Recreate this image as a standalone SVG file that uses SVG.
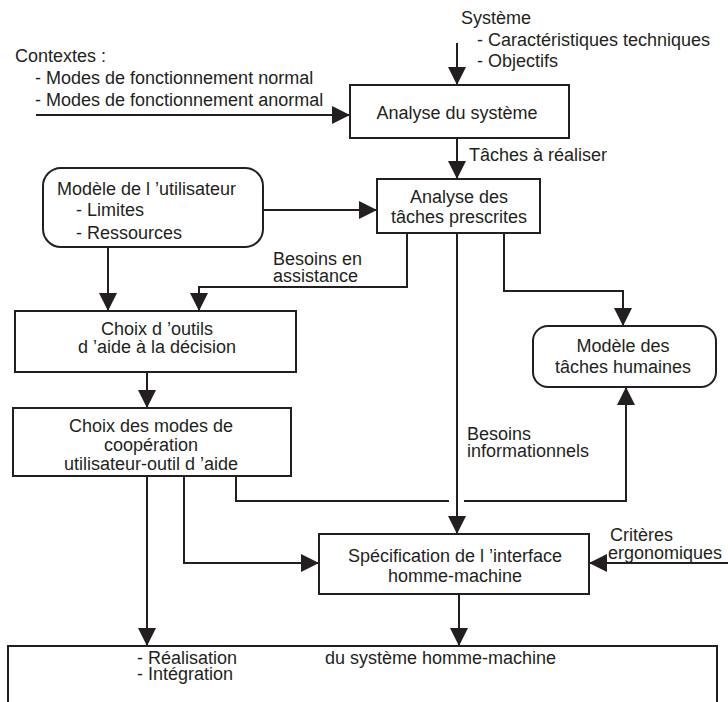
<svg xmlns="http://www.w3.org/2000/svg" width="728" height="702" viewBox="0 0 728 702">
<style>
  .box { fill: #ffffff; stroke: #231f20; stroke-width: 2; }
  .ln { fill: none; stroke: #231f20; stroke-width: 2; marker-end: url(#ah); }
  .ln0 { fill: none; stroke: #231f20; stroke-width: 2; }
  text { font-family: "Liberation Sans", Arial, sans-serif; font-size: 18px; fill: #231f20; }
  .c { text-anchor: middle; }
</style>
<defs>
  <marker id="ah" markerUnits="userSpaceOnUse" markerWidth="19" markerHeight="19" refX="18" refY="9" orient="auto">
    <path d="M0,0 L18,9 L0,18 Z" fill="#231f20"/>
  </marker>
</defs>
<rect width="728" height="702" fill="#ffffff"/>

<g id="connectors">
  <line class="ln" x1="457" y1="43" x2="457" y2="85"/>
  <line class="ln" x1="36" y1="115" x2="350" y2="115"/>
  <line class="ln" x1="457" y1="138" x2="457" y2="179"/>
  <line class="ln" x1="263" y1="210" x2="377" y2="210"/>
  <line class="ln" x1="108" y1="247" x2="108" y2="311"/>
  <polyline class="ln" points="407,233 407,287 199,287 199,311"/>
  <polyline class="ln" points="504,233 504,291 623,291 623,326"/>
  <line class="ln" x1="457" y1="233" x2="457" y2="534"/>
  <line class="ln" x1="147" y1="372" x2="147" y2="408"/>
  <line class="ln" x1="147" y1="476" x2="147" y2="646"/>
  <polyline class="ln" points="184,476 184,563 319,563"/>
  <polyline class="ln0" points="236,476 236,501 449,501"/>
  <polyline class="ln" points="464,501 626,501 626,387"/>
  <line class="ln" x1="728" y1="563" x2="589" y2="563"/>
  <line class="ln" x1="459" y1="594" x2="459" y2="646"/>
</g>

<g id="systeme-input">
  <text x="461" y="24">Système</text>
  <text x="477" y="46">- Caractéristiques techniques</text>
  <text x="477" y="67">- Objectifs</text>
</g>

<g id="contextes">
  <text x="15" y="62">Contextes :</text>
  <text x="35" y="84">- Modes de fonctionnement normal</text>
  <text x="35" y="106">- Modes de fonctionnement anormal</text>
</g>

<g id="analyse-systeme">
  <rect class="box" x="350" y="85" width="219" height="53"/>
  <text class="c" x="457" y="119">Analyse du système</text>
</g>

<g id="label-taches">
  <text x="469" y="161">Tâches à réaliser</text>
</g>

<g id="analyse-taches">
  <rect class="box" x="377" y="179" width="163" height="54"/>
  <text class="c" x="459" y="203">Analyse des</text>
  <text class="c" x="459" y="223">tâches prescrites</text>
</g>

<g id="modele-utilisateur">
  <rect class="box" x="43" y="168" width="220" height="79" rx="18" ry="18"/>
  <text x="57" y="195">Modèle de l ’utilisateur</text>
  <text x="76" y="216">- Limites</text>
  <text x="76" y="239">- Ressources</text>
</g>

<g id="label-assistance">
  <text x="273" y="265">Besoins en</text>
  <text x="273" y="282">assistance</text>
</g>

<g id="choix-outils">
  <rect class="box" x="15" y="311" width="281" height="61"/>
  <text class="c" x="157" y="335">Choix d ’outils</text>
  <text class="c" x="157" y="353">d ’aide à la décision</text>
</g>

<g id="choix-modes">
  <rect class="box" x="13" y="408" width="278" height="68"/>
  <text class="c" x="151" y="432">Choix des modes de</text>
  <text class="c" x="151" y="451">coopération</text>
  <text class="c" x="151" y="470">utilisateur-outil d ’aide</text>
</g>

<g id="modele-taches">
  <rect class="box" x="533" y="326" width="183" height="61" rx="15" ry="15"/>
  <text class="c" x="623" y="352">Modèle des</text>
  <text class="c" x="623" y="373">tâches humaines</text>
</g>

<g id="label-informationnels">
  <text x="467" y="440">Besoins</text>
  <text x="467" y="457">informationnels</text>
</g>

<g id="criteres">
  <text x="610" y="541">Critères</text>
  <text x="608" y="559">ergonomiques</text>
</g>

<g id="specification">
  <rect class="box" x="319" y="534" width="270" height="60"/>
  <text class="c" x="455" y="562">Spécification de l ’interface</text>
  <text class="c" x="455" y="582">homme-machine</text>
</g>

<g id="realisation">
  <rect class="box" x="8" y="646" width="709" height="80"/>
  <text x="137" y="664">- Réalisation</text>
  <text x="137" y="680">- Intégration</text>
  <text x="325" y="664">du système homme-machine</text>
</g>
</svg>
